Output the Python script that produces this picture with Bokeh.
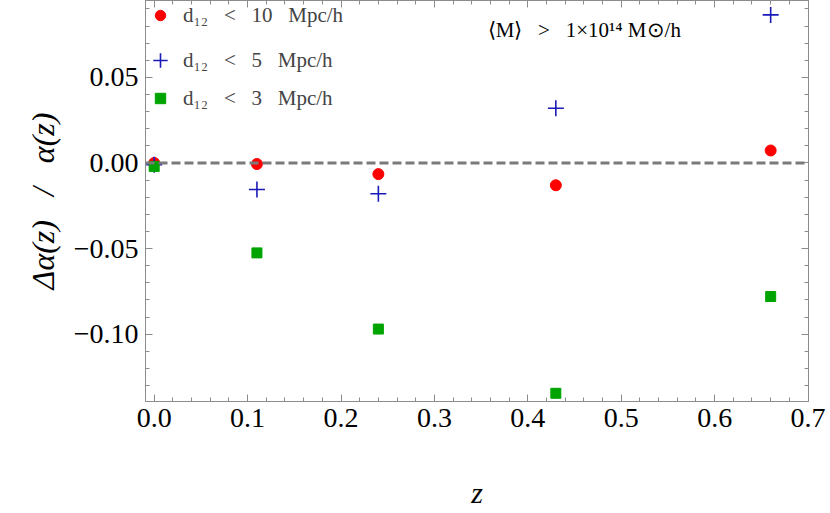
from bokeh.plotting import figure
from bokeh.models import (Range1d, Span, Legend, LegendItem, LinearAxis, Label,
                          CustomJSTickFormatter, FixedTicker)
from bokeh.embed import file_html
from bokeh.resources import INLINE

S = "\u00a0"  # non-collapsing space
# ---------------- data ----------------
z = [0.0, 0.11, 0.24, 0.43, 0.66]
dalpha_d10 = [0.0, -0.0006, -0.0065, -0.013, 0.0073]
dalpha_d5 = [-0.001, -0.0155, -0.018, 0.032, 0.0865]
dalpha_d3 = [-0.002, -0.0525, -0.097, -0.1345, -0.078]
series_labels = [f"d₁₂{S*3}<{S*3}10{S*3}Mpc/h",
                 f"d₁₂{S*3}<{S*3}5{S*3}Mpc/h",
                 f"d₁₂{S*3}<{S*3}3{S*3}Mpc/h"]
annotation_text = f"⟨M⟩{S*3}>{S*3}1×10¹⁴{S}M⊙/h"
x_ticks = [0.0, 0.1, 0.2, 0.3, 0.4, 0.5, 0.6, 0.7]
y_ticks = [-0.10, -0.05, 0.0, 0.05]
reference_level = 0.0
x_label = "z"
y_label = f"Δα(z){S*3}/{S*3}α(z)"

FONT = "Liberation Serif"
FRAME = "#8c8c8c"
RED = "#ff0000"
BLUE = "#1a1ab8"
GREEN = "#00a400"

W, H = 828, 511
FRAME_LEFT, FRAME_RIGHT, FRAME_TOP, FRAME_BOTTOM = 145, 808, 0, 409
p = figure(width=W, height=H, output_backend="svg", toolbar_location=None,
           x_range=Range1d(-0.0093, 0.7005), y_range=Range1d(-0.1393, 0.0949),
           min_border_left=FRAME_LEFT, min_border_right=W - FRAME_RIGHT,
           min_border_top=FRAME_TOP, min_border_bottom=H - FRAME_BOTTOM)
p.xgrid.visible = False
p.ygrid.visible = False
p.outline_line_color = FRAME
p.outline_line_width = 1
p.background_fill_color = "white"
p.border_fill_color = "white"

def minor(ticks, n=5):
    out = []
    step = ticks[1] - ticks[0]
    for t in [ticks[0] - step] + ticks:
        for k in range(1, n):
            out.append(round(t + k * step / n, 6))
    return out

xt = FixedTicker(ticks=x_ticks, minor_ticks=minor(x_ticks))
yt = FixedTicker(ticks=y_ticks, minor_ticks=minor(y_ticks))

xfmt = CustomJSTickFormatter(code="const v = Math.abs(tick) < 1e-9 ? 0 : tick; return v.toFixed(1).replace('-', '\u2212');")
yfmt = CustomJSTickFormatter(code="const v = Math.abs(tick) < 1e-9 ? 0 : tick; return v.toFixed(2).replace('-', '\u2212');")
blank = CustomJSTickFormatter(code="return '';")

def style(ax):
    ax.axis_line_color = FRAME
    ax.major_tick_line_color = FRAME
    ax.minor_tick_line_color = FRAME
    ax.major_tick_in = 7
    ax.major_tick_out = 0
    ax.minor_tick_in = 4
    ax.minor_tick_out = 0
    ax.major_label_text_font = FONT
    ax.major_label_text_font_size = "28px"
    ax.major_label_text_color = "black"
    ax.axis_label_text_font = FONT
    ax.axis_label_text_color = "black"
    ax.axis_label_text_font_style = "italic"

xa = p.xaxis[0]
ya = p.yaxis[0]
xa.ticker = xt
ya.ticker = yt
xa.formatter = xfmt
ya.formatter = yfmt
style(xa)
style(ya)
xa.major_label_standoff = 7
ya.major_label_standoff = 7
xa.axis_label = x_label
ya.axis_label = y_label
xa.axis_label_text_font_size = "30px"
ya.axis_label_text_font_size = "32px"
xa.axis_label_standoff = 46
ya.axis_label_standoff = 10

top = LinearAxis(ticker=xt, formatter=blank)
right = LinearAxis(ticker=yt, formatter=blank)
for ax in (top, right):
    style(ax)
    ax.major_label_standoff = 0
    ax.major_label_text_font_size = "1px"
p.add_layout(top, "above")
p.add_layout(right, "right")

r10 = p.scatter(z, dalpha_d10, marker="circle", size=11, fill_color=RED, line_color=RED)
r5 = p.scatter(z, dalpha_d5, marker="cross", size=16, line_color=BLUE, line_width=1.6)
r3 = p.scatter(z, dalpha_d3, marker="square", size=10, fill_color=GREEN, line_color=GREEN)

p.add_layout(Span(location=reference_level, dimension="width", line_color="#7a7a7a",
                  line_width=3, line_dash="9 4"))

frame_h = FRAME_BOTTOM - FRAME_TOP
def add_legend(renderer, label, center_y, g, text_x):
    top_off = center_y - FRAME_TOP - g / 2
    left = 160 - g / 2
    lg = Legend(items=[LegendItem(label=label, renderers=[renderer])],
                location=(left - FRAME_LEFT, frame_h - top_off - g),
                padding=0, spacing=0, margin=0, glyph_width=g, glyph_height=g,
                label_height=g, label_standoff=int(text_x - left - g),
                label_text_font=FONT, label_text_font_size="21px",
                border_line_color=None, background_fill_alpha=0)
    p.add_layout(lg, "center")

add_legend(r10, series_labels[0], 23, 26, 183)
add_legend(r5, series_labels[1], 68, 36, 183)
add_legend(r3, series_labels[2], 106, 26, 183)

p.add_layout(Label(x=0.357, y=0.0777, text=annotation_text, text_font=FONT,
                   text_font_size="21px", text_baseline="middle", text_color="black"))

open("out.html", "w").write(file_html(p, INLINE))
